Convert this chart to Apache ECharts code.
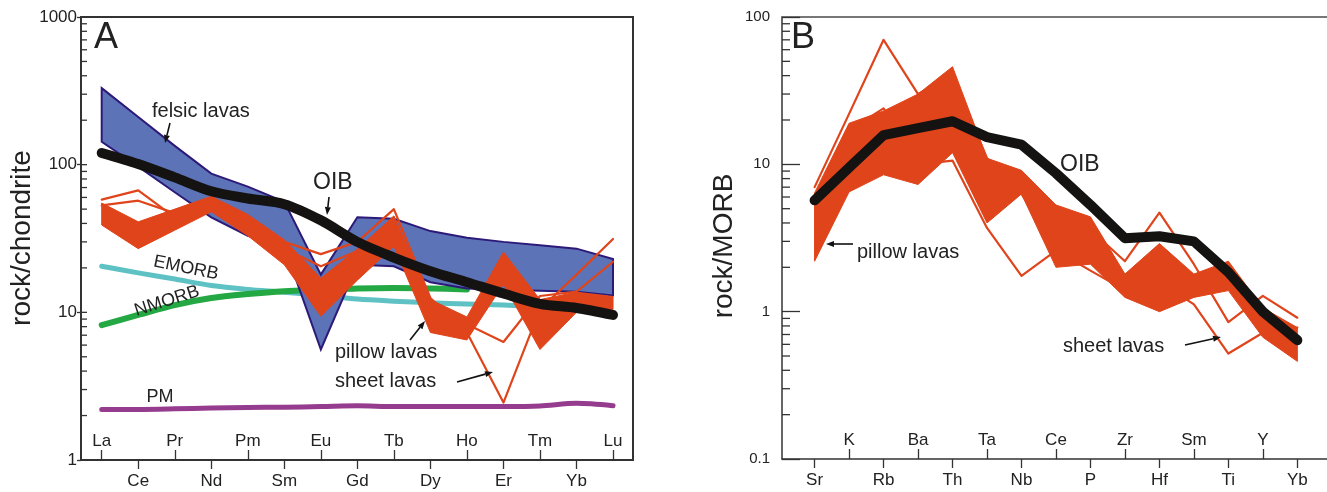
<!DOCTYPE html>
<html>
<head>
<meta charset="utf-8">
<script src="https://cdn.jsdelivr.net/npm/echarts@6/dist/echarts.min.js"></script>
<style>
  html, body { margin: 0; padding: 0; background: #fff; }
  #chart { width: 1327px; height: 492px; }
</style>
</head>
<body>
<div id="chart"></div>
<script>
// ---- panel A : rare earth elements, rock/chondrite ----
var ree = ['La', 'Ce', 'Pr', 'Nd', 'Pm', 'Sm', 'Eu', 'Gd', 'Tb', 'Dy', 'Ho', 'Er', 'Tm', 'Yb', 'Lu'];
var oibA = [120, 101, 82, 66, 59, 54, 42, 30, 23.5, 19, 16, 13.4, 11.4, 10.7, 9.6];
var felsicTop = [330, 210, 134, 87, 71, 56, 18, 44, 43, 35.5, 32, 30, 28.5, 27, 23];
var felsicBot = [143, 97, 65, 44, 33, 28, 5.6, 21, 20.5, 16, 14.5, 14.2, 14, 13.8, 13];
var emorb = [20.5, 18.5, 16.8, 15.2, 14.3, 13.7, 13, 12.3, 11.9, 11.6, 11.4, 11.2, 10.9];
var nmorb = [8.2, 9.6, 11.2, 12.5, 13.3, 13.9, 14.2, 14.5, 14.6, 14.5, 14.3];
var pm = [2.2, 2.2, 2.22, 2.25, 2.27, 2.28, 2.3, 2.33, 2.3, 2.3, 2.3, 2.3, 2.32, 2.42, 2.33];
var pillowTopA = [55, 41, 50, 61, 46, 31, 17, 26.8, 45, 12.2, 9.3, 25.6, 12.2, 13.7, 12.8];
var pillowBotA = [39, 27, 36, 48, 33, 21, 9.4, 16.5, 28, 7.3, 6.5, 15.5, 5.6, 10, 10.5];
var sheetA1 = [58, 67, 44, 60, 44, 30, 24.8, 30, 50, 12.5, 7.3, 2.45, 10.5, 18, 31.4];
var sheetA2 = [53, 57, 47, 56, 40, 27, 20.5, 26, 44, 12, 8.3, 6.3, 12.9, 13.8, 22];

// ---- panel B : trace elements, rock/MORB ----
var trace = ['Sr', 'K', 'Rb', 'Ba', 'Th', 'Ta', 'Nb', 'Ce', 'P', 'Zr', 'Hf', 'Sm', 'Ti', 'Y', 'Yb'];
var oibB = [5.7, 9.5, 15.8, 17.6, 19.6, 15.3, 13.6, 8.7, 5.3, 3.15, 3.25, 3.0, 1.85, 1.0, 0.64];
var pillowTopB = [6.4, 19, 23, 30, 46, 11, 9.1, 5.3, 4.4, 1.8, 2.9, 1.8, 2.2, 1.06, 0.78];
var pillowBotB = [2.2, 6.5, 8.5, 7.3, 12, 4, 6.3, 2.0, 2.1, 1.25, 1.0, 1.25, 1.39, 0.67, 0.46];
var sheetB1 = [7.0, 22, 70, 30, 40, 11, 6.3, 2.7, 3.6, 2.2, 4.7, 2.1, 0.85, 1.28, 0.91];
var sheetB2 = [6.0, 17, 24, 10, 10.6, 3.7, 1.75, 2.6, 1.9, 1.4, 1.6, 1.12, 0.52, 0.72, 0.78];

var FONT = '"Liberation Sans", Arial, Helvetica, sans-serif';
var RED = '#e0441b';
var INK = '#222';

var chart = echarts.init(document.getElementById('chart'));

var xRangeA = [-0.567, 14.547];
var xRangeB = [-0.945, 14.86];

function idx(list, odd) {
  return list.map(function (c, i) { return i; }).filter(function (i) { return i % 2 === (odd ? 1 : 0); });
}

function lineSeries(xi, vals, color, width, z, smooth) {
  return {
    type: 'line', xAxisIndex: xi, yAxisIndex: xi === 0 ? 0 : 1,
    data: vals.map(function (v, i) { return [i, v]; }),
    symbol: 'none', smooth: smooth || false, z: z, silent: true,
    lineStyle: { color: color, width: width, join: 'round', cap: 'round' }
  };
}

function bandSeries(xi, upper, lower, fill, stroke, width, z) {
  return {
    type: 'custom', xAxisIndex: xi, yAxisIndex: xi === 0 ? 0 : 1, z: z, silent: true,
    data: [[0, upper[0]]],
    renderItem: function (params, api) {
      var p = [];
      upper.forEach(function (v, i) { p.push(api.coord([i, v])); });
      for (var i = lower.length - 1; i >= 0; i--) p.push(api.coord([i, lower[i]]));
      return {
        type: 'polygon', shape: { points: p },
        style: { fill: fill, stroke: stroke, lineWidth: width, lineJoin: 'miter' }
      };
    }
  };
}

// log-axis minor ticks (2..9 in every decade), drawn inside the plot
function tickSeries(xi, xMin, lo, hi, minorLen, majorLen) {
  var data = [];
  for (var d = lo; d < hi * 0.99; d *= 10) {
    if (majorLen) data.push([xMin, +d.toPrecision(3), majorLen]);
    for (var m = 2; m <= 9; m++) data.push([xMin, +(m * d).toPrecision(3), minorLen]);
  }
  if (majorLen) data.push([xMin, hi, majorLen]);
  return {
    type: 'custom', xAxisIndex: xi, yAxisIndex: xi === 0 ? 0 : 1, z: 20, silent: true,
    encode: { x: 0, y: 1 }, data: data, clip: false,
    renderItem: function (params, api) {
      var p = api.coord([api.value(0), api.value(1)]);
      return {
        type: 'line', shape: { x1: p[0], y1: p[1], x2: p[0] + api.value(2), y2: p[1] },
        style: { stroke: '#333', lineWidth: 1.3 }
      };
    }
  };
}

function xAxisPair(grid, range, cats, insideOdd, showLine) {
  var inner = idx(cats, insideOdd), outer = idx(cats, !insideOdd);
  var fmt = function (v) { return cats[Math.round(v)]; };
  var lab = { fontSize: 17, color: INK, fontFamily: FONT, formatter: fmt };
  return [{
    gridIndex: grid, type: 'value', min: range[0], max: range[1], position: 'bottom',
    axisLine: { show: showLine, onZero: false, lineStyle: { color: '#333', width: 1.5 } },
    splitLine: { show: false },
    axisTick: { show: true, inside: true, length: 10, customValues: inner, lineStyle: { color: '#333', width: 1.3 } },
    axisLabel: Object.assign({ inside: true, margin: 10, customValues: inner }, lab)
  }, {
    gridIndex: grid, type: 'value', min: range[0], max: range[1], position: 'bottom',
    axisLine: { show: false, onZero: false }, splitLine: { show: false },
    axisTick: { show: true, inside: false, length: 9, customValues: outer, lineStyle: { color: '#333', width: 1.3 } },
    axisLabel: Object.assign({ margin: 13, customValues: outer }, lab)
  }];
}

function text(str, x, y, size, rot, align) {
  return {
    type: 'text', x: x, y: y, rotation: rot || 0, z: 100, silent: true,
    style: {
      text: str, fontSize: size, fontFamily: FONT, fill: INK,
      align: align || 'left', verticalAlign: 'middle',
      textAlign: align || 'left', textVerticalAlign: 'middle'
    }
  };
}

function arrow(x1, y1, x2, y2) {
  var a = Math.atan2(y2 - y1, x2 - x1), L = 8, W = 3;
  var bx = x2 - L * Math.cos(a), by = y2 - L * Math.sin(a);
  return [{
    type: 'line', z: 100, silent: true,
    shape: { x1: x1, y1: y1, x2: bx, y2: by },
    style: { stroke: '#111', lineWidth: 1.6 }
  }, {
    type: 'polygon', z: 100, silent: true,
    shape: { points: [[x2, y2], [bx + W * Math.sin(a), by - W * Math.cos(a)], [bx - W * Math.sin(a), by + W * Math.cos(a)]] },
    style: { fill: '#111' }
  }];
}

var xAxes = []
  .concat(xAxisPair(0, xRangeA, ree, false, false))
  .concat(xAxisPair(1, xRangeB, trace, true, true));
// top frame line of panel B
xAxes.push({
  gridIndex: 1, type: 'value', min: xRangeB[0], max: xRangeB[1], position: 'top',
  axisLine: { show: true, onZero: false, lineStyle: { color: '#777', width: 2 } },
  axisTick: { show: false }, axisLabel: { show: false }, splitLine: { show: false }
});

var graphics = [
  text('A', 94, 38, 36),
  text('B', 791, 38, 36),
  text('rock/chondrite', 22, 238, 28, Math.PI / 2, 'center'),
  text('rock/MORB', 724, 246, 28, Math.PI / 2, 'center'),
  text('felsic lavas', 152, 111, 20),
  text('OIB', 313, 183, 23),
  text('EMORB', 186, 268, 18, -0.2, 'center'),
  text('NMORB', 167, 301, 18, 0.31, 'center'),
  text('PM', 160, 397, 18, 0, 'center'),
  text('pillow lavas', 335, 352, 20),
  text('sheet lavas', 335, 381, 20),
  text('pillow lavas', 857, 252, 20),
  text('OIB', 1060, 165, 23),
  text('sheet lavas', 1063, 346, 20)
]
  .concat(arrow(170, 123, 165, 143))
  .concat(arrow(329, 197, 327, 215))
  .concat(arrow(410, 340, 425, 321))
  .concat(arrow(457, 382, 493, 372))
  .concat(arrow(853, 244, 826, 244))
  .concat(arrow(1185, 345, 1221, 337));

var plain = function (v) { return String(v); };

var option = {
  animation: false,
  backgroundColor: '#fff',
  grid: [
    { left: 81, top: 17, width: 552, height: 443, show: true, borderColor: '#333', borderWidth: 2, backgroundColor: 'transparent' },
    { left: 782, top: 17, width: 545, height: 442 }
  ],
  xAxis: xAxes,
  yAxis: [{
    gridIndex: 0, type: 'log', logBase: 10, min: 1, max: 1000,
    axisLine: { show: false, onZero: false },
    axisTick: { show: true, length: 4, lineStyle: { color: '#333', width: 1.3 } },
    axisLabel: { fontSize: 17, color: INK, fontFamily: FONT, margin: 4, formatter: plain },
    splitLine: { show: false }
  }, {
    gridIndex: 1, type: 'log', logBase: 10, min: 0.1, max: 100,
    axisLine: { show: true, onZero: false, lineStyle: { color: '#333', width: 1.5 } },
    axisTick: { show: true, inside: true, length: 18, lineStyle: { color: '#333', width: 1.3 } },
    axisLabel: { fontSize: 15, color: INK, fontFamily: FONT, margin: 12, formatter: plain },
    splitLine: { show: false }
  }],
  graphic: graphics,
  series: [
    // panel A
    lineSeries(0, pm, '#963c8f', 5, 2, 0.3),
    lineSeries(0, emorb, '#5ec2c4', 5, 3, 0.3),
    lineSeries(0, nmorb, '#23a843', 6, 3, 0.3),
    bandSeries(0, felsicTop, felsicBot, '#5c74b7', '#2d1a78', 2, 4),
    bandSeries(0, pillowTopA, pillowBotA, RED, RED, 1, 5),
    lineSeries(0, sheetA1, RED, 2.2, 6),
    lineSeries(0, sheetA2, RED, 2.2, 6),
    lineSeries(0, oibA, '#151212', 10, 7, 0.3),
    tickSeries(0, xRangeA[0], 1, 1000, 6, 6),
    // panel B
    bandSeries(2, pillowTopB, pillowBotB, RED, RED, 1, 5),
    lineSeries(2, sheetB1, RED, 2.2, 6),
    lineSeries(2, sheetB2, RED, 2.2, 6),
    lineSeries(2, oibB, '#151212', 10, 7),
    tickSeries(2, xRangeB[0], 0.1, 100, 8, 0)
  ]
};

chart.setOption(option);
</script>
</body>
</html>
